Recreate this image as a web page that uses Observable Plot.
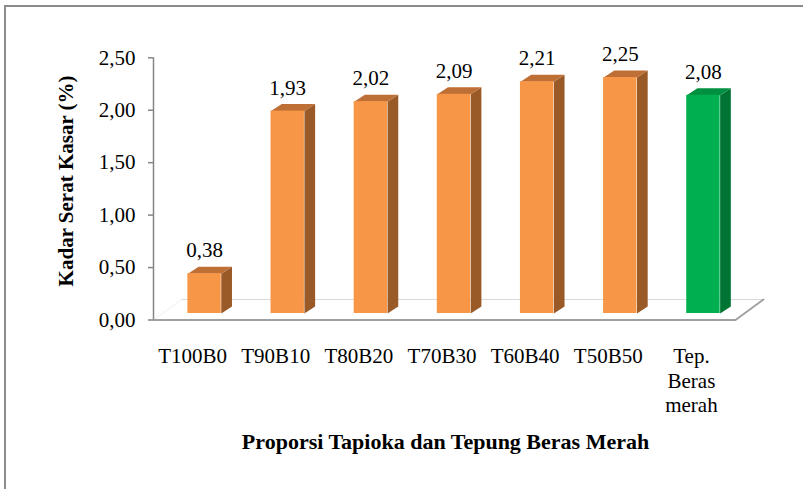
<!DOCTYPE html>
<html>
<head>
<meta charset="utf-8">
<script src="https://cdn.jsdelivr.net/npm/d3@7"></script>
<script src="https://cdn.jsdelivr.net/npm/@observablehq/plot@0.6"></script>
<style>
  html, body { margin: 0; padding: 0; background: #fff; }
  #wrap { position: relative; width: 803px; height: 489px; overflow: hidden; }
  #frame { position: absolute; left: 4px; top: 5px; width: 900px; height: 600px; border: 2px solid #8c8c8c; box-sizing: border-box; pointer-events: none; }
  #chart { position: absolute; left: 0; top: 0; }
</style>
</head>
<body>
<div id="wrap"><div id="chart"></div><div id="frame"></div></div>
<script>
// ---- data ----
const categories = ["T100B0", "T90B10", "T80B20", "T70B30", "T60B40", "T50B50", "Tep.\nBeras\nmerah"];
const values = [0.38, 1.93, 2.02, 2.09, 2.21, 2.25, 2.08];
const groups = ["campuran", "campuran", "campuran", "campuran", "campuran", "campuran", "kontrol"];
const yTicks = [0, 0.5, 1.0, 1.5, 2.0, 2.5];
const xTitle = "Proporsi Tapioka dan Tepung Beras Merah";
const yTitle = "Kadar Serat Kasar (%)";

// ---- styles ----
const faceColors = {
  campuran: { front: "#F79646", top: "#BE6F35", side: "#9A5A28" },
  kontrol:  { front: "#00B050", top: "#00903F", side: "#007533" }
};
const fmt = v => v.toFixed(2).replace(".", ",");

// geometry (in data units, derived from the scales)
const W = 803, H = 489;
const mL = 153, mR = 68, mT = 57.3, mB = 169.5;
const kx = (W - mL - mR) / 7;       // px per category
const ky = (H - mT - mB) / 2.5;     // px per unit
const off = 9.5 / kx;               // bar shift from category center
const hw = 16.7 / kx;               // half bar width
const ddx = 10.7 / kx, ddy = 7 / ky; // bar depth
const fdx = 28 / kx, fdy = 20.5 / ky; // floor depth

const data = categories.map((c, i) => ({ i, cat: c, value: values[i], group: groups[i] }));

const sidePts = data.flatMap(d => {
  const x2 = d.i + off + hw;
  return [[x2, 0], [x2 + ddx, ddy], [x2 + ddx, d.value + ddy], [x2, d.value]]
    .map(([x, y]) => ({ x, y, i: d.i, c: faceColors[d.group].side }));
});
const topPts = data.flatMap(d => {
  const x1 = d.i + off - hw, x2 = d.i + off + hw;
  return [[x1, d.value], [x2, d.value], [x2 + ddx, d.value + ddy], [x1 + ddx, d.value + ddy]]
    .map(([x, y]) => ({ x, y, i: d.i, c: faceColors[d.group].top }));
});

const floorFront = [{ x: -0.5, y: 0 }, { x: 6.5, y: 0 }, { x: 6.5 + fdx, y: fdy }];
const floorBack = [{ x: -0.5 + fdx, y: fdy }, { x: 6.5 + fdx, y: fdy }];
const floorLeft = [{ x: -0.5, y: 0 }, { x: -0.5 + fdx, y: fdy }];

const chart = Plot.plot({
  width: W, height: H,
  marginLeft: mL, marginRight: mR, marginTop: mT, marginBottom: mB,
  style: { fontFamily: "'Liberation Serif', 'Times New Roman', serif", fontSize: "21px", background: "transparent", overflow: "visible", color: "#000" },
  x: { type: "linear", domain: [-0.5, 6.5], axis: null },
  y: { domain: [0, 2.5], axis: null },
  marks: [
    Plot.line(floorBack, { x: "x", y: "y", stroke: "#d9d9d9", strokeWidth: 1.2 }),
    Plot.line(floorLeft, { x: "x", y: "y", stroke: "#eeeeee", strokeWidth: 1 }),
    Plot.line(sidePts, { x: "x", y: "y", z: "i", fill: "c", stroke: null, dy: -6.5 }),
    Plot.line(topPts, { x: "x", y: "y", z: "i", fill: "c", stroke: null, dy: -6.5 }),
    Plot.rectY(data, { x1: d => d.i + off - hw, x2: d => d.i + off + hw, y1: 0, y2: "value", fill: d => faceColors[d.group].front, dy: -6.5 }),
    Plot.line(floorFront, { x: "x", y: "y", stroke: "#a0a0a0", strokeWidth: 2 }),
    Plot.ruleX([-0.5], { y1: 0, y2: 2.5, stroke: "#868686", strokeWidth: 1.5 }),
    Plot.axisY({ ticks: yTicks, tickFormat: fmt, tickSize: 5, tickPadding: 13, stroke: "#868686", strokeWidth: 1.5, fontSize: 21, fill: "#000" }),
    Plot.text(data, { x: d => d.i + off, y: "value", text: d => fmt(d.value), dy: -29.5, fontSize: 21, fill: "#000" }),
    Plot.text(data, { x: "i", y: 0, text: "cat", lineAnchor: "top", dy: 26.3, dx: -2.5, lineHeight: 1.15, fontSize: 21, fill: "#000" }),
    Plot.text([xTitle], { frameAnchor: "bottom", dy: 128.8, dx: 1, fontWeight: "bold", fontSize: 22, fill: "#000" }),
    Plot.text([yTitle], { frameAnchor: "left", textAnchor: "middle", rotate: -90, dx: -87.7, dy: -8, fontWeight: "bold", fontSize: 21, fill: "#000" })
  ]
});
document.getElementById("chart").appendChild(chart);
</script>
</body>
</html>
